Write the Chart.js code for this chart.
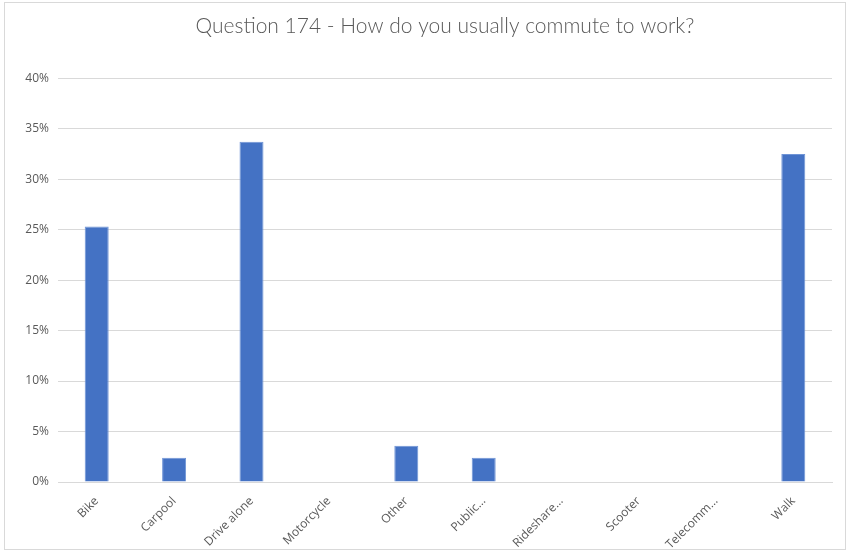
<!DOCTYPE html>
<html>
<head>
<meta charset="utf-8">
<script src="https://cdn.jsdelivr.net/npm/chart.js@4"></script>
<style>
  html, body { margin: 0; padding: 0; background: #fff; }
  #wrap { position: absolute; left: 4px; top: 2px; width: 842px; height: 548px; border: 1px solid #d9d9d9; box-sizing: border-box; }
  canvas { display: block; }
</style>
</head>
<body>
<div id="wrap"><canvas id="chart" width="842" height="548"></canvas></div>
<script>
// commute answers, share of respondents (%)
const categories = ['Bike', 'Carpool', 'Drive alone', 'Motorcycle', 'Other', 'Public…', 'Rideshare…', 'Scooter', 'Telecomm…', 'Walk']
const shares = [25.3, 2.4, 33.7, 0, 3.6, 2.4, 0, 0, 0, 32.5]
const yTicks = [0, 5, 10, 15, 20, 25, 30, 35, 40]

const grey = '#595959'

new Chart(document.getElementById('chart'), {
  type: 'bar',
  data: {
    labels: categories,
    datasets: [{
      data: shares,
      backgroundColor: '#4472c4',
      borderColor: '#6f94d6',
      borderWidth: 1,
      barPercentage: 0.62,
      categoryPercentage: 0.5
    }]
  },
  options: {
    responsive: false,
    animation: false,
    layout: { padding: { top: 11, right: 15, left: 0, bottom: 0 } },
    plugins: {
      legend: { display: false },
      tooltip: { enabled: false },
      title: {
        display: true,
        // centred over the plot rather than the whole canvas
        fullSize: false,
        text: 'Question 174 - How do you usually commute to work?',
        color: grey,
        font: { family: 'Lato', size: 21, weight: 300 },
        padding: { top: 0, bottom: 39 }
      }
    },
    scales: {
      x: {
        grid: { display: false },
        border: { color: '#d9d9d9' },
        ticks: {
          color: grey,
          font: { family: 'Open Sans', size: 12 },
          minRotation: 45,
          maxRotation: 45,
          padding: 4
        },
        afterFit: s => { s.height = 69 }
      },
      y: {
        min: 0,
        max: 40,
        afterBuildTicks: s => { s.ticks = yTicks.map(v => ({ value: v })) },
        grid: { color: '#d9d9d9', drawTicks: false },
        border: { display: false },
        ticks: {
          color: grey,
          font: { family: 'Open Sans', size: 12 },
          padding: 9,
          callback: v => v + '%'
        },
        afterFit: s => { s.width = 53 }
      }
    }
  }
})
</script>
</body>
</html>
